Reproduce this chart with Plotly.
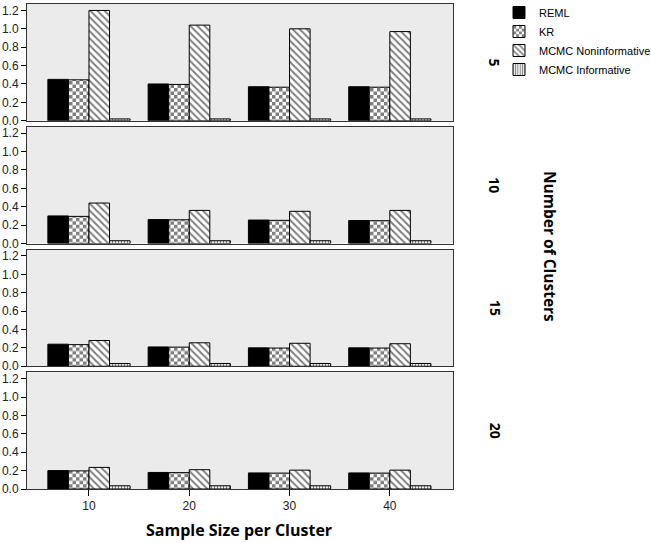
import plotly.graph_objects as go
from plotly.subplots import make_subplots

sample_sizes = ["10", "20", "30", "40"]
clusters = ["5", "10", "15", "20"]
methods = ["REML", "KR", "MCMC Noninformative", "MCMC Informative"]

reml = {
    "5": [0.45, 0.40, 0.37, 0.37],
    "10": [0.30, 0.26, 0.255, 0.25],
    "15": [0.24, 0.21, 0.20, 0.20],
    "20": [0.20, 0.18, 0.175, 0.175],
}
kr = {
    "5": [0.445, 0.395, 0.365, 0.365],
    "10": [0.295, 0.258, 0.252, 0.248],
    "15": [0.235, 0.208, 0.198, 0.198],
    "20": [0.197, 0.178, 0.173, 0.173],
}
mcmc_non = {
    "5": [1.20, 1.04, 1.00, 0.97],
    "10": [0.44, 0.36, 0.35, 0.36],
    "15": [0.28, 0.255, 0.25, 0.245],
    "20": [0.235, 0.21, 0.205, 0.205],
}
mcmc_inf = {
    "5": [0.02, 0.02, 0.02, 0.02],
    "10": [0.03, 0.03, 0.03, 0.03],
    "15": [0.03, 0.03, 0.03, 0.03],
    "20": [0.035, 0.035, 0.035, 0.035],
}
y_ticks = [0.0, 0.2, 0.4, 0.6, 0.8, 1.0, 1.2]
y_tick_labels = ["0.0", "0.2", "0.4", "0.6", "0.8", "1.0", "1.2"]

series = [reml, kr, mcmc_non, mcmc_inf]

W, H = 651, 543
ml, mr, mt, mb = 27, 198, 4, 54
ph = H - mt - mb
pw = W - ml - mr
gap = 6

fig = make_subplots(rows=4, cols=1, shared_xaxes=True, vertical_spacing=gap / ph)

checker = "M0,0H3.5V3.5H0Z M3.5,3.5H7V7H3.5Z"
styles = [
    dict(color="black"),
    dict(color="white", pattern=dict(path=checker, size=7, fgcolor="black", bgcolor="white", solidity=1, fillmode="overlay")),
    dict(color="white", pattern=dict(shape="\\", size=5, solidity=0.4, fgcolor="black", bgcolor="white", fillmode="overlay")),
    dict(color="white", pattern=dict(shape="|", size=3, solidity=0.45, fgcolor="black", bgcolor="white", fillmode="overlay")),
]

for r, c in enumerate(clusters, start=1):
    for m, s, st in zip(methods, series, styles):
        fig.add_trace(
            go.Bar(
                x=sample_sizes, y=s[c], name=m, legendgroup=m,
                showlegend=(r == 1),
                marker=dict(line=dict(color="black", width=1), **st),
            ),
            row=r, col=1,
        )
    fig.add_annotation(
        text="<b>%s</b>" % c, xref="paper", yref="y%s domain" % ("" if r == 1 else r),
        x=(495 - ml) / pw, y=0.5, xanchor="center", yanchor="middle", showarrow=False,
        textangle=90, font=dict(family="Open Sans", size=14, color="black"),
    )

tick_font = dict(family="Liberation Sans", size=12, color="#222")
for r in range(1, 5):
    fig.update_yaxes(
        range=[0, 1.27], tickvals=y_ticks, ticktext=y_tick_labels, ticks="outside",
        ticklen=5, tickcolor="black", showgrid=False, zeroline=False,
        showline=True, linecolor="#333", linewidth=1, mirror=True,
        tickfont=tick_font, row=r, col=1,
    )
    fig.update_xaxes(
        type="category", range=[-0.618, 3.63], showgrid=False, zeroline=False,
        showline=True, linecolor="#333", linewidth=1, mirror=True,
        ticks="outside" if r == 4 else "", ticklen=6, tickcolor="black",
        showticklabels=(r == 4), tickfont=tick_font, row=r, col=1,
    )

fig.add_annotation(
    text="<b>Sample Size per Cluster</b>", xref="paper", yref="paper",
    x=(239 - ml) / pw, y=1 - (530 - mt) / ph, xanchor="center", yanchor="middle",
    showarrow=False, font=dict(family="Open Sans", size=16, color="black"),
)
fig.add_annotation(
    text="<b>Number of Clusters</b>", xref="paper", yref="paper",
    x=(550 - ml) / pw, y=1 - (246 - mt) / ph, xanchor="center", yanchor="middle",
    showarrow=False, textangle=90, font=dict(family="Open Sans", size=15.5, color="black"),
)

fig.update_layout(
    width=W, height=H,
    margin=dict(l=ml, r=mr, t=mt, b=mb, autoexpand=False),
    paper_bgcolor="white", plot_bgcolor="#EBEBEB",
    barmode="group", bargap=0.18, bargroupgap=0,
    legend=dict(
        x=(499 - ml) / pw, y=1 + 6 / ph, xanchor="left", yanchor="top",
        font=dict(family="Liberation Sans", size=11, color="black"),
        bgcolor="rgba(0,0,0,0)", tracegroupgap=0,
    ),
)

fig.write_html(
    "out.html",
    config={"displayModeBar": False},
    post_script="document.body.style.margin='0';document.body.style.overflow='hidden';",
)
